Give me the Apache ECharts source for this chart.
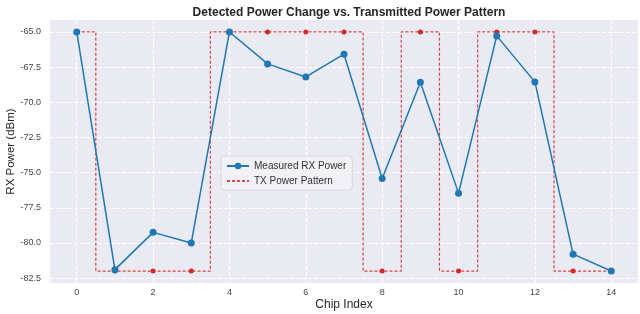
<!DOCTYPE html>
<html>
<head>
<meta charset="utf-8">
<script src="https://cdn.jsdelivr.net/npm/echarts@6/dist/echarts.min.js"></script>
<style>html,body{margin:0;padding:0;background:#fff}#c{width:640px;height:314px}</style>
</head>
<body>
<div id="c"></div>
<script>
const chipIndex = [0,1,2,3,4,5,6,7,8,9,10,11,12,13,14];
const measuredRx = [-65.0,-81.9,-79.25,-80.0,-65.0,-67.27,-68.2,-66.58,-75.42,-68.57,-76.46,-65.28,-68.55,-80.8,-82.0];
const txPattern = [-65,-82,-82,-82,-65,-65,-65,-65,-82,-65,-82,-65,-65,-82,-82];
const xTicks = [0,2,4,6,8,10,12,14];
const yTicks = [-82.5,-80.0,-77.5,-75.0,-72.5,-70.0,-67.5,-65.0];

const font = 'Liberation Sans, Arial, sans-serif';
const chart = echarts.init(document.getElementById('c'), null, {renderer:'canvas'});
chart.setOption({
  animation:false,
  backgroundColor:'#ffffff',
  title:{text:'Detected Power Change vs. Transmitted Power Pattern', left:344, textAlign:'center', top:2,
    textStyle:{fontFamily:font, fontSize:12, fontWeight:'bold', color:'#262626'}},
  grid:{left:50, right:2, top:20, bottom:31, show:true, backgroundColor:'#EAEAF2', borderWidth:0,
    containLabel:false, outerBoundsMode:'none'},
  legend:{
    show:true, left:221, top:156, orient:'vertical', itemGap:5, itemWidth:22, itemHeight:8,
    backgroundColor:'rgba(242,242,247,0.9)', borderColor:'#d6d6dc', borderWidth:1, borderRadius:3,
    padding:[5,6,4,5],
    textStyle:{fontFamily:font, fontSize:10, color:'#333'},
    data:[
      {name:'Measured RX Power'},
      {name:'TX Power Pattern', itemStyle:{opacity:0}}
    ]
  },
  xAxis:{type:'value', min:-0.7, max:14.7,
    name:'Chip Index', nameLocation:'middle', nameGap:16, nameMoveOverlap:false,
    nameTextStyle:{fontFamily:font, fontSize:12, color:'#262626'},
    axisLine:{show:false},
    axisTick:{show:false, customValues:xTicks},
    axisLabel:{fontFamily:font, fontSize:9, color:'#444', margin:5, customValues:xTicks,
      formatter:v => String(Math.round(v))},
    splitLine:{show:true, lineStyle:{color:'#ffffff', width:1, type:[4,2]}}
  },
  yAxis:{type:'value', min:-82.85, max:-64.15,
    name:'RX Power (dBm)', nameLocation:'middle', nameGap:33, nameRotate:90, nameMoveOverlap:false,
    nameTextStyle:{fontFamily:font, fontSize:11.5, color:'#262626'},
    axisLine:{show:false},
    axisTick:{show:false, customValues:yTicks},
    axisLabel:{fontFamily:font, fontSize:9, color:'#444', margin:9, customValues:yTicks,
      formatter:v => v.toFixed(1)},
    splitLine:{show:true, lineStyle:{color:'#ffffff', width:1, type:[4,2]}}
  },
  series:[
    {name:'TX Power Pattern', type:'line', step:'middle',
      data:chipIndex.map((x,i)=>[x, txPattern[i]]),
      symbol:'circle', symbolSize:5, showSymbol:true,
      itemStyle:{color:'#d62728'},
      lineStyle:{color:'rgba(214,39,40,0.85)', width:1.2, type:[3,2]},
      z:2},
    {name:'Measured RX Power', type:'line',
      data:chipIndex.map((x,i)=>[x, measuredRx[i]]),
      symbol:'circle', symbolSize:7,
      itemStyle:{color:'#1f77b4'},
      lineStyle:{color:'#1f77b4', width:1.5},
      z:3}
  ]
});
</script>
</body>
</html>
